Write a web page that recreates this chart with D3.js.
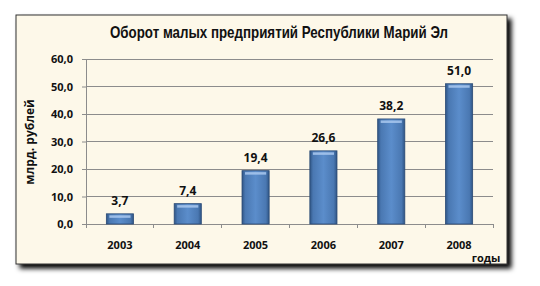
<!DOCTYPE html>
<html><head><meta charset="utf-8">
<script src="https://cdn.jsdelivr.net/npm/d3@7"></script>
<style>body{margin:0;background:#fff}svg{display:block}</style>
</head><body>
<script>
const categories = ["2003","2004","2005","2006","2007","2008"];
const values = [3.7, 7.4, 19.4, 26.6, 38.2, 51.0];
const yTicks = [0,10,20,30,40,50,60];
const title = "Оборот малых предприятий Республики Марий Эл";
const yLabel = "млрд. рублей";
const xLabel = "годы";

const W = 540, H = 286;
const svg = d3.select("body").append("svg").attr("width", W).attr("height", H);
const defs = svg.append("defs");

// shadow
const f = defs.append("filter").attr("id","sh").attr("x","-10%").attr("y","-10%").attr("width","120%").attr("height","130%");
f.append("feGaussianBlur").attr("in","SourceAlpha").attr("stdDeviation",2.5);
f.append("feOffset").attr("dx",4).attr("dy",4).attr("result","b");
const fm = f.append("feMerge"); fm.append("feMergeNode").attr("in","b"); fm.append("feMergeNode").attr("in","SourceGraphic");

svg.append("rect").attr("x",16).attr("y",15).attr("width",491).attr("height",249)
  .attr("fill","#fdf8e9").attr("stroke","#333").attr("stroke-width",1).attr("filter","url(#sh)");

// bar gradients
const gh = defs.append("linearGradient").attr("id","gh").attr("x1","0").attr("x2","1");
[[0,"#2f5585"],[0.12,"#4a78b2"],[0.5,"#5b8dcb"],[0.88,"#4a78b2"],[1,"#2f5585"]].forEach(s=>gh.append("stop").attr("offset",s[0]).attr("stop-color",s[1]));

const x = d3.scaleBand().domain(categories).range([86,493]).paddingInner(0.6).paddingOuter(0.3);
const y = d3.scaleLinear().domain([0,60]).range([224,59]);

// gridlines
svg.append("g").selectAll("line").data(yTicks).join("line")
  .attr("x1",86).attr("x2",493).attr("y1",d=>y(d)).attr("y2",d=>y(d))
  .attr("stroke","#8c8c8c").attr("stroke-width",1).attr("shape-rendering","crispEdges");

// y axis
const ya = svg.append("g").attr("transform","translate(86,0)")
  .call(d3.axisLeft(y).tickValues(yTicks).tickSize(4).tickFormat(d=>d3.format(".1f")(d).replace(".",",")));
ya.select(".domain").attr("stroke","#8c8c8c");
ya.selectAll(".tick line").attr("stroke","#8c8c8c");
ya.selectAll("text").attr("font-family","Open Sans, sans-serif").attr("font-weight","bold").attr("font-size",11).attr("fill","#111").attr("x",-13);

// x axis with boundary ticks
const xa = svg.append("g").attr("transform","translate(0,224)");
xa.append("line").attr("x1",86).attr("x2",493).attr("stroke","#8c8c8c").attr("shape-rendering","crispEdges");
xa.selectAll("line.t").data(d3.range(categories.length+1)).join("line").attr("class","t")
  .attr("x1",(d)=>86+d*(407/6)).attr("x2",(d)=>86+d*(407/6)).attr("y1",0).attr("y2",4)
  .attr("stroke","#8c8c8c").attr("shape-rendering","crispEdges");
xa.selectAll("text").data(categories).join("text")
  .attr("x",d=>x(d)+x.bandwidth()/2).attr("y",25).attr("text-anchor","middle")
  .attr("font-family","Open Sans, sans-serif").attr("font-weight","bold").attr("font-size",11).attr("fill","#111").text(d=>d);

// bars
const bars = svg.append("g").selectAll("g").data(values).join("g");
bars.append("rect").attr("x",(d,i)=>x(categories[i])).attr("y",d=>y(d))
  .attr("width",x.bandwidth()).attr("height",d=>224-y(d)).attr("fill","url(#gh)")
  .attr("stroke","#2a4a75").attr("stroke-width",0.8);
bars.append("rect").attr("x",(d,i)=>x(categories[i])+3).attr("y",d=>y(d)+1.5)
  .attr("width",x.bandwidth()-6).attr("height",2.5).attr("fill","#a9c8ee").attr("opacity",0.85);

// value labels
svg.append("g").selectAll("text").data(values).join("text")
  .attr("x",(d,i)=>x(categories[i])+x.bandwidth()/2).attr("y",d=>y(d)-8.5)
  .attr("text-anchor","middle").attr("font-family","Open Sans, sans-serif").attr("font-weight","bold")
  .attr("font-size",12).attr("fill","#111").text(d=>d3.format(".1f")(d).replace(".",","));

// title
svg.append("text").attr("x",279).attr("y",38).attr("text-anchor","middle")
  .attr("font-family","Liberation Sans, Arial, sans-serif").attr("font-weight","bold")
  .attr("font-size",16.5).attr("textLength",338).attr("lengthAdjust","spacingAndGlyphs")
  .attr("fill","#111").text(title);

// y label
svg.append("text").attr("transform","translate(34,142) rotate(-90)").attr("text-anchor","middle")
  .attr("font-family","Open Sans, sans-serif").attr("font-weight","bold").attr("font-size",12).attr("fill","#111").text(yLabel);

// x label
svg.append("text").attr("x",486).attr("y",262).attr("text-anchor","middle")
  .attr("font-family","Open Sans, sans-serif").attr("font-weight","bold").attr("font-size",11).attr("fill","#111").text(xLabel);
</script>
</body></html>
